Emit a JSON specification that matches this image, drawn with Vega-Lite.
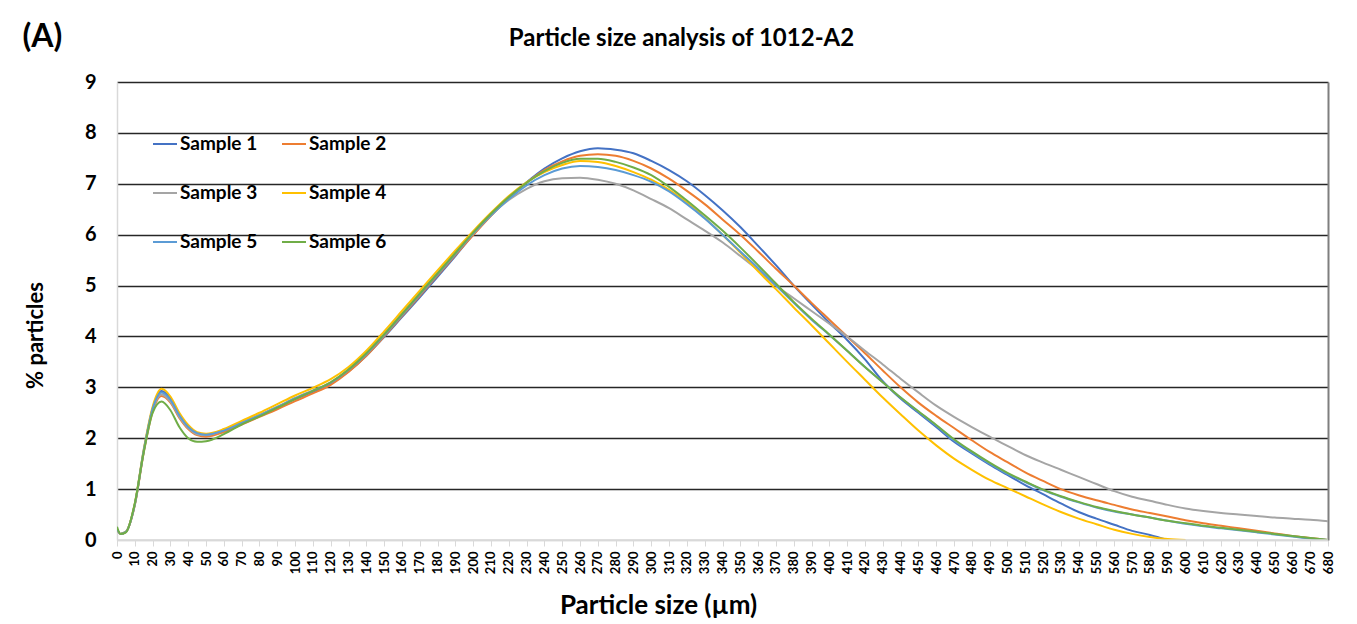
{
  "$schema": "https://vega.github.io/schema/vega-lite/v6.json",
  "width": 1211,
  "height": 458,
  "autosize": {"type": "none"},
  "padding": {"left": 117, "top": 82, "right": 29, "bottom": 84},
  "background": "white",
  "config": {
    "font": "Lato",
    "view": {"stroke": null},
    "axis": {"labelColor": "#000000", "titleColor": "#000000", "labelFontWeight": "bold", "titleFontWeight": "bold", "labelFont": "Lato", "titleFont": "Lato"},
    "legend": {"padding": 0}
  },
  "title": {
    "text": "Particle size analysis of 1012-A2",
    "anchor": "middle",
    "frame": "group",
    "dx": -41,
    "offset": -31,
    "fontSize": 24,
    "fontWeight": "bold",
    "font": "Lato",
    "color": "#000000"
  },
  "data": {
    "values": [
      {"size": 0, "Sample 1": 0.22, "Sample 2": 0.22, "Sample 3": 0.22, "Sample 4": 0.22, "Sample 5": 0.22, "Sample 6": 0.26},
      {"size": 2, "Sample 1": 0.12, "Sample 2": 0.12, "Sample 3": 0.12, "Sample 4": 0.12, "Sample 5": 0.12, "Sample 6": 0.12},
      {"size": 5, "Sample 1": 0.16, "Sample 2": 0.16, "Sample 3": 0.16, "Sample 4": 0.16, "Sample 5": 0.16, "Sample 6": 0.15},
      {"size": 10, "Sample 1": 0.7, "Sample 2": 0.68, "Sample 3": 0.7, "Sample 4": 0.72, "Sample 5": 0.7, "Sample 6": 0.72},
      {"size": 15, "Sample 1": 1.75, "Sample 2": 1.72, "Sample 3": 1.74, "Sample 4": 1.78, "Sample 5": 1.76, "Sample 6": 1.72},
      {"size": 20, "Sample 1": 2.58, "Sample 2": 2.52, "Sample 3": 2.55, "Sample 4": 2.62, "Sample 5": 2.58, "Sample 6": 2.5},
      {"size": 25, "Sample 1": 2.93, "Sample 2": 2.83, "Sample 3": 2.86, "Sample 4": 2.97, "Sample 5": 2.9, "Sample 6": 2.72},
      {"size": 30, "Sample 1": 2.78, "Sample 2": 2.7, "Sample 3": 2.72, "Sample 4": 2.82, "Sample 5": 2.76, "Sample 6": 2.55},
      {"size": 35, "Sample 1": 2.45, "Sample 2": 2.4, "Sample 3": 2.42, "Sample 4": 2.5, "Sample 5": 2.45, "Sample 6": 2.22},
      {"size": 40, "Sample 1": 2.22, "Sample 2": 2.18, "Sample 3": 2.2, "Sample 4": 2.26, "Sample 5": 2.22, "Sample 6": 2.0},
      {"size": 45, "Sample 1": 2.1, "Sample 2": 2.06, "Sample 3": 2.08, "Sample 4": 2.12, "Sample 5": 2.1, "Sample 6": 1.93},
      {"size": 50, "Sample 1": 2.07, "Sample 2": 2.03, "Sample 3": 2.06, "Sample 4": 2.09, "Sample 5": 2.07, "Sample 6": 1.94},
      {"size": 60, "Sample 1": 2.15, "Sample 2": 2.12, "Sample 3": 2.16, "Sample 4": 2.18, "Sample 5": 2.15, "Sample 6": 2.08},
      {"size": 70, "Sample 1": 2.3, "Sample 2": 2.27, "Sample 3": 2.31, "Sample 4": 2.34, "Sample 5": 2.3, "Sample 6": 2.27},
      {"size": 80, "Sample 1": 2.45, "Sample 2": 2.42, "Sample 3": 2.46, "Sample 4": 2.5, "Sample 5": 2.45, "Sample 6": 2.43},
      {"size": 90, "Sample 1": 2.61, "Sample 2": 2.57, "Sample 3": 2.62, "Sample 4": 2.67, "Sample 5": 2.61, "Sample 6": 2.6},
      {"size": 100, "Sample 1": 2.77, "Sample 2": 2.73, "Sample 3": 2.79, "Sample 4": 2.84, "Sample 5": 2.78, "Sample 6": 2.77},
      {"size": 110, "Sample 1": 2.91, "Sample 2": 2.88, "Sample 3": 2.94, "Sample 4": 2.99, "Sample 5": 2.93, "Sample 6": 2.93},
      {"size": 120, "Sample 1": 3.07, "Sample 2": 3.05, "Sample 3": 3.1, "Sample 4": 3.16, "Sample 5": 3.09, "Sample 6": 3.1},
      {"size": 130, "Sample 1": 3.31, "Sample 2": 3.3, "Sample 3": 3.35, "Sample 4": 3.4, "Sample 5": 3.34, "Sample 6": 3.35},
      {"size": 140, "Sample 1": 3.62, "Sample 2": 3.62, "Sample 3": 3.67, "Sample 4": 3.72, "Sample 5": 3.65, "Sample 6": 3.67},
      {"size": 150, "Sample 1": 3.99, "Sample 2": 4.0, "Sample 3": 4.05, "Sample 4": 4.1, "Sample 5": 4.02, "Sample 6": 4.04},
      {"size": 160, "Sample 1": 4.38, "Sample 2": 4.4, "Sample 3": 4.45, "Sample 4": 4.5, "Sample 5": 4.42, "Sample 6": 4.44},
      {"size": 170, "Sample 1": 4.77, "Sample 2": 4.8, "Sample 3": 4.85, "Sample 4": 4.9, "Sample 5": 4.82, "Sample 6": 4.84},
      {"size": 180, "Sample 1": 5.17, "Sample 2": 5.2, "Sample 3": 5.25, "Sample 4": 5.3, "Sample 5": 5.22, "Sample 6": 5.24},
      {"size": 190, "Sample 1": 5.58, "Sample 2": 5.6, "Sample 3": 5.64, "Sample 4": 5.69, "Sample 5": 5.62, "Sample 6": 5.64},
      {"size": 200, "Sample 1": 6.0, "Sample 2": 5.99, "Sample 3": 6.02, "Sample 4": 6.07, "Sample 5": 6.02, "Sample 6": 6.04},
      {"size": 210, "Sample 1": 6.38, "Sample 2": 6.37, "Sample 3": 6.38, "Sample 4": 6.43, "Sample 5": 6.38, "Sample 6": 6.41},
      {"size": 220, "Sample 1": 6.72, "Sample 2": 6.72, "Sample 3": 6.68, "Sample 4": 6.76, "Sample 5": 6.7, "Sample 6": 6.74},
      {"size": 230, "Sample 1": 7.03, "Sample 2": 7.02, "Sample 3": 6.9, "Sample 4": 7.03, "Sample 5": 6.97, "Sample 6": 7.02},
      {"size": 240, "Sample 1": 7.3, "Sample 2": 7.27, "Sample 3": 7.05, "Sample 4": 7.23, "Sample 5": 7.17, "Sample 6": 7.25},
      {"size": 250, "Sample 1": 7.5, "Sample 2": 7.44, "Sample 3": 7.11, "Sample 4": 7.37, "Sample 5": 7.3, "Sample 6": 7.41},
      {"size": 260, "Sample 1": 7.64, "Sample 2": 7.55, "Sample 3": 7.12, "Sample 4": 7.45, "Sample 5": 7.35, "Sample 6": 7.49},
      {"size": 270, "Sample 1": 7.7, "Sample 2": 7.58, "Sample 3": 7.08, "Sample 4": 7.43, "Sample 5": 7.33, "Sample 6": 7.49},
      {"size": 280, "Sample 1": 7.67, "Sample 2": 7.55, "Sample 3": 7.0, "Sample 4": 7.35, "Sample 5": 7.27, "Sample 6": 7.43},
      {"size": 290, "Sample 1": 7.6, "Sample 2": 7.45, "Sample 3": 6.87, "Sample 4": 7.23, "Sample 5": 7.17, "Sample 6": 7.32},
      {"size": 300, "Sample 1": 7.45, "Sample 2": 7.3, "Sample 3": 6.7, "Sample 4": 7.08, "Sample 5": 7.04, "Sample 6": 7.17},
      {"size": 310, "Sample 1": 7.27, "Sample 2": 7.1, "Sample 3": 6.52, "Sample 4": 6.88, "Sample 5": 6.85, "Sample 6": 6.94},
      {"size": 320, "Sample 1": 7.05, "Sample 2": 6.86, "Sample 3": 6.3, "Sample 4": 6.63, "Sample 5": 6.6, "Sample 6": 6.67},
      {"size": 330, "Sample 1": 6.78, "Sample 2": 6.6, "Sample 3": 6.08, "Sample 4": 6.33, "Sample 5": 6.32, "Sample 6": 6.38},
      {"size": 340, "Sample 1": 6.48, "Sample 2": 6.3, "Sample 3": 5.85, "Sample 4": 6.0, "Sample 5": 6.0, "Sample 6": 6.08},
      {"size": 350, "Sample 1": 6.15, "Sample 2": 6.0, "Sample 3": 5.58, "Sample 4": 5.65, "Sample 5": 5.67, "Sample 6": 5.75},
      {"size": 360, "Sample 1": 5.78, "Sample 2": 5.67, "Sample 3": 5.3, "Sample 4": 5.28, "Sample 5": 5.34, "Sample 6": 5.4},
      {"size": 370, "Sample 1": 5.4, "Sample 2": 5.33, "Sample 3": 5.0, "Sample 4": 4.93, "Sample 5": 5.0, "Sample 6": 5.04},
      {"size": 380, "Sample 1": 5.0, "Sample 2": 5.0, "Sample 3": 4.75, "Sample 4": 4.57, "Sample 5": 4.66, "Sample 6": 4.68},
      {"size": 390, "Sample 1": 4.63, "Sample 2": 4.66, "Sample 3": 4.5, "Sample 4": 4.22, "Sample 5": 4.33, "Sample 6": 4.35},
      {"size": 400, "Sample 1": 4.27, "Sample 2": 4.33, "Sample 3": 4.25, "Sample 4": 3.86, "Sample 5": 4.03, "Sample 6": 4.04},
      {"size": 410, "Sample 1": 3.93, "Sample 2": 4.0, "Sample 3": 4.0, "Sample 4": 3.5, "Sample 5": 3.72, "Sample 6": 3.72},
      {"size": 420, "Sample 1": 3.55, "Sample 2": 3.67, "Sample 3": 3.72, "Sample 4": 3.15, "Sample 5": 3.4, "Sample 6": 3.4},
      {"size": 430, "Sample 1": 3.12, "Sample 2": 3.33, "Sample 3": 3.45, "Sample 4": 2.8, "Sample 5": 3.1, "Sample 6": 3.1},
      {"size": 440, "Sample 1": 2.78, "Sample 2": 3.0, "Sample 3": 3.17, "Sample 4": 2.47, "Sample 5": 2.8, "Sample 6": 2.8},
      {"size": 450, "Sample 1": 2.5, "Sample 2": 2.7, "Sample 3": 2.9, "Sample 4": 2.15, "Sample 5": 2.52, "Sample 6": 2.53},
      {"size": 460, "Sample 1": 2.22, "Sample 2": 2.44, "Sample 3": 2.64, "Sample 4": 1.86, "Sample 5": 2.25, "Sample 6": 2.26},
      {"size": 470, "Sample 1": 1.93, "Sample 2": 2.2, "Sample 3": 2.42, "Sample 4": 1.6, "Sample 5": 1.96, "Sample 6": 1.98},
      {"size": 480, "Sample 1": 1.7, "Sample 2": 1.96, "Sample 3": 2.22, "Sample 4": 1.38, "Sample 5": 1.72, "Sample 6": 1.74},
      {"size": 490, "Sample 1": 1.48, "Sample 2": 1.73, "Sample 3": 2.03, "Sample 4": 1.18, "Sample 5": 1.5, "Sample 6": 1.52},
      {"size": 500, "Sample 1": 1.28, "Sample 2": 1.53, "Sample 3": 1.85, "Sample 4": 1.02, "Sample 5": 1.3, "Sample 6": 1.32},
      {"size": 510, "Sample 1": 1.08, "Sample 2": 1.33, "Sample 3": 1.67, "Sample 4": 0.86, "Sample 5": 1.14, "Sample 6": 1.15},
      {"size": 520, "Sample 1": 0.9, "Sample 2": 1.16, "Sample 3": 1.52, "Sample 4": 0.7, "Sample 5": 0.98, "Sample 6": 0.99},
      {"size": 530, "Sample 1": 0.72, "Sample 2": 1.0, "Sample 3": 1.38, "Sample 4": 0.55, "Sample 5": 0.85, "Sample 6": 0.86},
      {"size": 540, "Sample 1": 0.55, "Sample 2": 0.88, "Sample 3": 1.24, "Sample 4": 0.42, "Sample 5": 0.74, "Sample 6": 0.75},
      {"size": 550, "Sample 1": 0.42, "Sample 2": 0.78, "Sample 3": 1.1, "Sample 4": 0.31, "Sample 5": 0.64, "Sample 6": 0.65},
      {"size": 560, "Sample 1": 0.3, "Sample 2": 0.69, "Sample 3": 0.96, "Sample 4": 0.2, "Sample 5": 0.56, "Sample 6": 0.57},
      {"size": 570, "Sample 1": 0.18, "Sample 2": 0.6, "Sample 3": 0.85, "Sample 4": 0.12, "Sample 5": 0.5, "Sample 6": 0.5},
      {"size": 580, "Sample 1": 0.1, "Sample 2": 0.53, "Sample 3": 0.77, "Sample 4": 0.06, "Sample 5": 0.44, "Sample 6": 0.44},
      {"size": 590, "Sample 1": 0.0, "Sample 2": 0.46, "Sample 3": 0.69, "Sample 4": 0.02, "Sample 5": 0.38, "Sample 6": 0.38},
      {"size": 600, "Sample 1": null, "Sample 2": 0.39, "Sample 3": 0.62, "Sample 4": 0.0, "Sample 5": 0.32, "Sample 6": 0.33},
      {"size": 610, "Sample 1": null, "Sample 2": 0.33, "Sample 3": 0.57, "Sample 4": null, "Sample 5": 0.27, "Sample 6": 0.28},
      {"size": 620, "Sample 1": null, "Sample 2": 0.28, "Sample 3": 0.53, "Sample 4": null, "Sample 5": 0.23, "Sample 6": 0.24},
      {"size": 630, "Sample 1": null, "Sample 2": 0.23, "Sample 3": 0.5, "Sample 4": null, "Sample 5": 0.19, "Sample 6": 0.2},
      {"size": 640, "Sample 1": null, "Sample 2": 0.18, "Sample 3": 0.47, "Sample 4": null, "Sample 5": 0.15, "Sample 6": 0.16},
      {"size": 650, "Sample 1": null, "Sample 2": 0.13, "Sample 3": 0.44, "Sample 4": null, "Sample 5": 0.11, "Sample 6": 0.12},
      {"size": 660, "Sample 1": null, "Sample 2": 0.08, "Sample 3": 0.42, "Sample 4": null, "Sample 5": 0.07, "Sample 6": 0.08},
      {"size": 670, "Sample 1": null, "Sample 2": 0.04, "Sample 3": 0.4, "Sample 4": null, "Sample 5": 0.03, "Sample 6": 0.04},
      {"size": 680, "Sample 1": null, "Sample 2": 0.0, "Sample 3": 0.37, "Sample 4": null, "Sample 5": 0.0, "Sample 6": 0.0}
    ]
  },
  "layer": [
    {
      "transform": [
        {"fold": ["Sample 1", "Sample 2", "Sample 3", "Sample 4", "Sample 5", "Sample 6"], "as": ["sample", "pct"]},
        {"filter": "datum.pct != null"}
      ],
      "mark": {"type": "line", "interpolate": "monotone", "strokeWidth": 2, "clip": true},
      "encoding": {
        "x": {
          "field": "size",
          "type": "quantitative",
          "scale": {"domain": [0, 680], "nice": false, "zero": false},
          "axis": {
            "title": "Particle size (µm)",
            "titleFontSize": 26,
            "titleX": 541,
            "titleY": 73,
            "titleAlign": "center",
            "titleBaseline": "alphabetic",
            "tickCount": 68,
            "labelAngle": -90,
            "labelFontSize": 13,
            "labelPadding": 5,
            "labelOverlap": false,
            "labelFlush": false,
            "domainColor": "#D9D9D9",
            "domainWidth": 1.5,
            "tickColor": "#D9D9D9",
            "tickSize": 6,
            "grid": false
          }
        },
        "y": {
          "field": "pct",
          "type": "quantitative",
          "scale": {"domain": [0, 9], "nice": false},
          "axis": {
            "title": "% particles",
            "titleFontSize": 22,
            "titleX": -82,
            "titleY": 253,
            "titleAlign": "center",
            "titleBaseline": "middle",
            "values": [0, 1, 2, 3, 4, 5, 6, 7, 8, 9],
            "labelFontSize": 20,
            "labelPadding": 21,
            "ticks": false,
            "domainColor": "#D9D9D9",
            "domainWidth": 1.5,
            "grid": true,
            "gridColor": {"condition": {"test": "datum.value === 0", "value": "#D9D9D9"}, "value": "#262626"},
            "gridWidth": 1.3,
            "gridOpacity": 1
          }
        },
        "color": {
          "field": "sample",
          "type": "nominal",
          "scale": {
            "domain": ["Sample 1", "Sample 2", "Sample 3", "Sample 4", "Sample 5", "Sample 6"],
            "range": ["#4472C4", "#ED7D31", "#A5A5A5", "#FFC000", "#5B9BD5", "#70AD47"]
          },
          "legend": {
            "title": null,
            "orient": "none",
            "direction": "horizontal",
            "legendX": 35,
            "legendY": 49,
            "columns": 2,
            "symbolType": "stroke",
            "symbolSize": 576,
            "symbolStrokeWidth": 2,
            "labelFontSize": 19,
            "labelFontWeight": "bold",
            "labelFont": "Lato",
            "labelColor": "#000000",
            "labelOffset": 2,
            "rowPadding": 26,
            "columnPadding": 20
          }
        }
      }
    },
    {
      "data": {"values": [{"level": 0}]},
      "mark": {"type": "rule", "color": "#D9D9D9", "strokeWidth": 1.5},
      "encoding": {
        "y": {
          "field": "level",
          "type": "quantitative",
          "scale": {"domain": [0, 9], "nice": false},
          "axis": {
            "orient": "right",
            "labels": false,
            "ticks": false,
            "grid": false,
            "domainColor": "#7F7F7F",
            "domainWidth": 2,
            "title": "(A)",
            "titleFontSize": 32,
            "titleFont": "Lato",
            "titleAngle": 0,
            "titleAlign": "left",
            "titleBaseline": "alphabetic",
            "titleX": -1306,
            "titleY": -36
          }
        }
      }
    }
  ],
  "resolve": {"axis": {"y": "independent"}}
}
